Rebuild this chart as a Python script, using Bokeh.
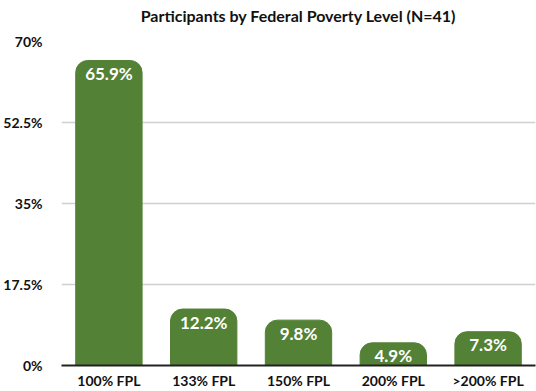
from bokeh.plotting import figure
from bokeh.models import FixedTicker, CustomJSTickFormatter, ColumnDataSource, Title
from bokeh.core.properties import value
from bokeh.embed import file_html
from bokeh.resources import INLINE

categories = ["100% FPL", "133% FPL", "150% FPL", "200% FPL", ">200% FPL"]
values = [65.9, 12.2, 9.8, 4.9, 7.3]
labels = ["65.9%", "12.2%", "9.8%", "4.9%", "7.3%"]
y_ticks = [0, 17.5, 35, 52.5, 70]

src = ColumnDataSource(dict(cat=categories, val=values, lab=labels))

p = figure(x_range=categories, y_range=(0, 70), width=536, height=391,
           output_backend="svg", toolbar_location=None,
           title="Participants by Federal Poverty Level (N=41)",
           min_border_left=57, min_border_right=1, min_border_top=0, min_border_bottom=20)
p.title.align = "center"
p.title.text_font = "Lato"
p.title.text_font_style = "bold"
p.title.text_font_size = "16px"
p.title.text_color = "#111111"
p.title.standoff = 6
p.add_layout(Title(text=" ", text_font_size="11px", standoff=0), "above")

p.vbar(x="cat", top="val", width=0.7, source=src, color="#538135",
       border_radius=(12, 12, 0, 0))
p.text(x="cat", y="val", text="lab", source=src, text_color="white",
       text_font=value("Lato"), text_font_style="bold", text_font_size="17px",
       text_align="center", text_baseline="middle", y_offset=13)

p.outline_line_color = None
p.xgrid.grid_line_color = None
p.ygrid.grid_line_color = "#d0d0d0"
p.ygrid.grid_line_width = 1.5
p.yaxis.ticker = FixedTicker(ticks=y_ticks)
p.yaxis.formatter = CustomJSTickFormatter(code="return tick + '%';")
p.yaxis.axis_line_color = None
p.yaxis.major_tick_line_color = None
p.yaxis.minor_tick_line_color = None
p.yaxis.major_label_text_font = "Lato"
p.yaxis.major_label_text_font_style = "bold"
p.yaxis.major_label_text_font_size = "14px"
p.yaxis.major_label_text_color = "#111111"
p.yaxis.major_label_standoff = 13
p.xaxis.axis_line_color = "#222222"
p.xaxis.axis_line_width = 2
p.xaxis.major_tick_line_color = None
p.xaxis.minor_tick_line_color = None
p.xaxis.major_label_text_font = "Lato"
p.xaxis.major_label_text_font_style = "bold"
p.xaxis.major_label_text_font_size = "14px"
p.xaxis.major_label_text_color = "#111111"
p.xaxis.major_label_standoff = 0
p.x_range.range_padding = 0.0

open("out.html", "w").write(file_html(p, INLINE))
